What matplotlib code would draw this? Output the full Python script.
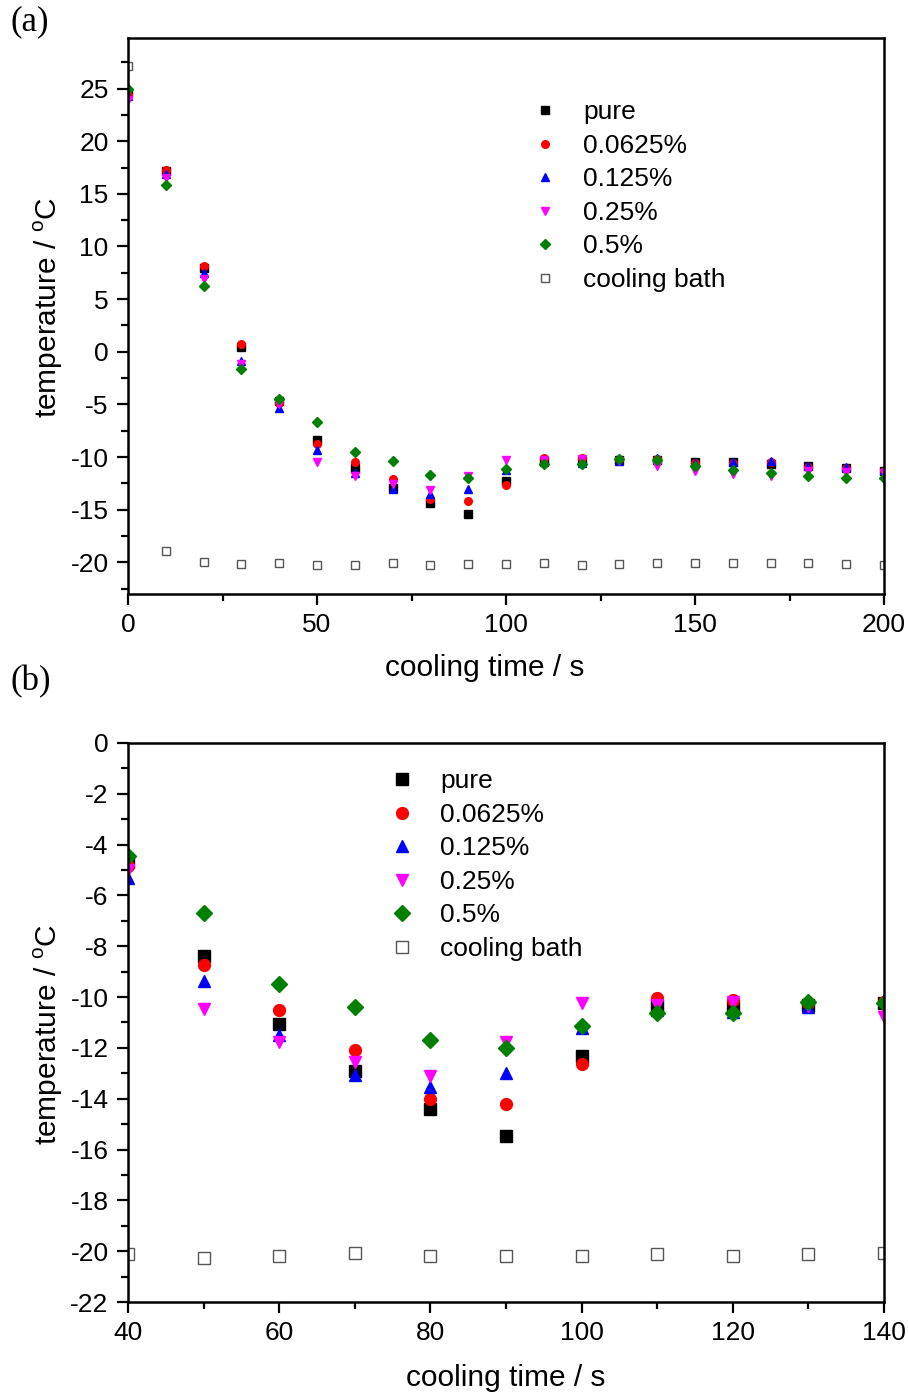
import matplotlib
matplotlib.use("Agg")
import matplotlib.pyplot as plt
from matplotlib.ticker import MultipleLocator

plt.rcParams['font.family'] = ['Liberation Sans', 'DejaVu Sans']
plt.rcParams['mathtext.fontset'] = 'custom'
plt.rcParams['mathtext.rm'] = 'Liberation Sans'
plt.rcParams['axes.unicode_minus'] = False

# cooling time (s)
time_s = [0, 10, 20, 30, 40, 50, 60, 70, 80, 90, 100,
          110, 120, 130, 140, 150, 160, 170, 180, 190, 200]

# temperatures (°C) for each additive concentration
pure = [24.6, 17.2, 8.0, 0.5, -4.7, -8.4, -11.05, -12.9, -14.4, -15.45, -12.3,
        -10.35, -10.4, -10.3, -10.25, -10.45, -10.5, -10.7, -10.8, -11.05, -11.3]
c0625 = [24.4, 17.3, 8.15, 0.7, -4.85, -8.75, -10.5, -12.1, -14.0, -14.2, -12.65,
         -10.05, -10.1, -10.25, -10.2, -10.6, -10.6, -10.5, -10.9, -11.0, -11.3]
c125 = [24.3, 16.9, 7.5, -0.85, -5.3, -9.35, -11.5, -13.05, -13.55, -13.0, -11.2,
        -10.5, -10.6, -10.4, -10.1, -10.6, -10.5, -10.35, -10.8, -10.95, -11.25]
c25 = [23.9, 16.5, 6.95, -1.2, -5.0, -10.45, -11.75, -12.55, -13.1, -11.75, -10.25,
       -10.3, -10.2, -10.35, -10.8, -11.3, -11.65, -11.75, -11.3, -11.4, -11.5]
c5 = [25.0, 15.8, 6.25, -1.6, -4.45, -6.7, -9.5, -10.4, -11.7, -12.0, -11.15,
      -10.63, -10.63, -10.2, -10.25, -10.85, -11.25, -11.5, -11.75, -12.0, -12.0]
bath = [27.1, -18.9, -20.0, -20.15, -20.1, -20.27, -20.2, -20.07, -20.2, -20.17, -20.17,
        -20.1, -20.2, -20.13, -20.07, -20.07, -20.1, -20.1, -20.07, -20.16, -20.23]

series_labels = ['pure', '0.0625%', '0.125%', '0.25%', '0.5%', 'cooling bath']
series_values = [pure, c0625, c125, c25, c5, bath]
markers = ['s', 'o', '^', 'v', 'D', 's']
colors = ['black', 'red', 'blue', 'magenta', 'green', 'white']
edges = ['black', 'red', 'blue', 'magenta', 'green', '#555555']

W, H = 908, 1398
fig = plt.figure(figsize=(W / 100, H / 100), dpi=100)


def axes_px(left, top, right, bottom):
    return fig.add_axes([left / W, 1 - bottom / H, (right - left) / W, (bottom - top) / H])


ax_a = axes_px(128, 38, 884, 594)
ax_b = axes_px(128, 743, 884, 1302)

FS = 19


def draw(ax, msize, diamond_size):
    for lab, vals, m, c, e in zip(series_labels, series_values, markers, colors, edges):
        ms = diamond_size if m == 'D' else msize
        if lab == 'cooling bath':
            ms = msize * 0.95
        ax.plot(time_s, vals, linestyle='none', marker=m, markersize=ms,
                markerfacecolor=c, markeredgecolor=e,
                markeredgewidth=1.0, label=lab)
    for s in ax.spines.values():
        s.set_linewidth(1.8)
    ax.tick_params(which='both', direction='out', top=False, right=False,
                   labelsize=FS, width=1.6)
    ax.tick_params(which='major', length=8, pad=6)
    ax.tick_params(which='minor', length=5)
    ax.set_xlabel('cooling time / s', fontsize=21.5)
    ax.set_ylabel('temperature / $^{\\mathrm{o}}$C', fontsize=21.5)


# panel (a): full cooling curve
draw(ax_a, 5.5, 5.0)
ax_a.set_xlim(0, 200)
ax_a.set_ylim(-23, 29.8)
ax_a.xaxis.set_major_locator(MultipleLocator(50))
ax_a.xaxis.set_minor_locator(MultipleLocator(25))
ax_a.yaxis.set_major_locator(MultipleLocator(5))
ax_a.yaxis.set_minor_locator(MultipleLocator(2.5))
ax_a.xaxis.set_label_coords(0.472, -0.108)
ax_a.yaxis.set_label_coords(-0.083, 0.516)
ax_a.legend(loc='upper left', bbox_to_anchor=(0.534, 0.888), frameon=False,
            fontsize=FS, numpoints=1, handlelength=1.0, handletextpad=0.94,
            labelspacing=0.36, borderpad=0, borderaxespad=0)

# panel (b): supercooling region
draw(ax_b, 8.5, 7.8)
ax_b.set_xlim(40, 140)
ax_b.set_ylim(-22, 0)
ax_b.xaxis.set_major_locator(MultipleLocator(20))
ax_b.xaxis.set_minor_locator(MultipleLocator(10))
ax_b.yaxis.set_major_locator(MultipleLocator(2))
ax_b.yaxis.set_minor_locator(MultipleLocator(1))
ax_b.xaxis.set_label_coords(0.5, -0.111)
ax_b.yaxis.set_label_coords(-0.083, 0.479)
ax_b.legend(loc='upper left', bbox_to_anchor=(0.345, 0.953), frameon=False,
            fontsize=FS, numpoints=1, handlelength=1.0, handletextpad=0.94,
            labelspacing=0.36, borderpad=0, borderaxespad=0)

fig.text(10 / W, 1 - 22 / H, '(a)', family=['Liberation Serif', 'DejaVu Serif'],
         fontsize=25, va='center', ha='left')
fig.text(10 / W, 1 - 682 / H, '(b)', family=['Liberation Serif', 'DejaVu Serif'],
         fontsize=25, va='center', ha='left')

fig.savefig('out.png', dpi=100)
